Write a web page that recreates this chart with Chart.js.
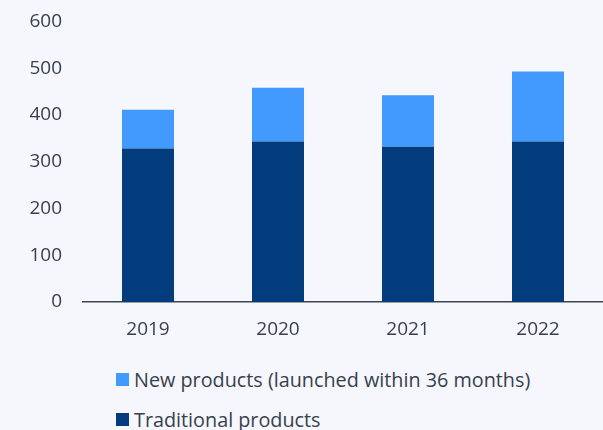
<!DOCTYPE html>
<html>
<head>
<meta charset="utf-8">
<script src="https://cdn.jsdelivr.net/npm/chart.js@4.4.1/dist/chart.umd.min.js"></script>
<style>
  html, body { margin: 0; padding: 0; background: #f5f7fc; }
  #wrap { position: relative; width: 603px; height: 430px; overflow: hidden; }
  #chart-box { position: absolute; left: 0; top: -11.5px; width: 603px; height: 361.5px; }
  #legend { position: absolute; left: 116px; top: 365px; margin: 0; padding: 0; list-style: none;
            font-family: "Open Sans", sans-serif; font-size: 19.8px; color: #37414c; }
  #legend li { display: flex; align-items: center; height: 28px; margin-bottom: 12px; white-space: nowrap; }
  #legend .swatch { display: inline-block; width: 13px; height: 13px; margin-right: 5px; }
</style>
</head>
<body>
<div id="wrap">
  <div id="chart-box"><canvas id="salesChart"></canvas></div>
  <ul id="legend"></ul>
</div>
<script>
// 年度別の売上構成（従来品 + 新製品）
const years = ['2019', '2020', '2021', '2022']
const traditionalProducts = [328, 343, 332, 343]
const newProducts = [83, 115, 110, 150]
const yTicks = [0, 100, 200, 300, 400, 500, 600]

const textColor = '#37414c'
const fontFamily = '"Open Sans", sans-serif'

const datasets = [
  {
    label: 'Traditional products',
    data: traditionalProducts,
    backgroundColor: '#023c7d',
    barPercentage: 0.8,
    categoryPercentage: 0.5
  },
  {
    label: 'New products (launched within 36 months)',
    data: newProducts,
    backgroundColor: '#4299fe',
    barPercentage: 0.8,
    categoryPercentage: 0.5
  }
]

const chart = new Chart(document.getElementById('salesChart'), {
  type: 'bar',
  data: { labels: years, datasets: datasets },
  options: {
    responsive: true,
    maintainAspectRatio: false,
    animation: false,
    layout: { padding: 0 },
    plugins: {
      legend: { display: false },
      tooltip: { enabled: false }
    },
    scales: {
      x: {
        stacked: true,
        grid: { display: false, drawTicks: false },
        border: { display: true, color: '#3d4752', width: 1.5 },
        ticks: {
          color: textColor,
          padding: 16,
          font: { family: fontFamily, size: 19 }
        },
        afterFit: function(scale) { scale.height = 48.5 }
      },
      y: {
        stacked: true,
        min: yTicks[0],
        max: yTicks[yTicks.length - 1],
        grid: { display: false, drawTicks: false },
        border: { display: false },
        afterBuildTicks: function(scale) {
          scale.ticks = yTicks.map(v => ({ value: v }))
        },
        ticks: {
          color: textColor,
          padding: 21,
          font: { family: fontFamily, size: 19 }
        },
        afterFit: function(scale) { scale.width = 83 }
      }
    }
  }
})

// 凡例（新製品を上に表示）
const legendEl = document.getElementById('legend')
datasets.slice().reverse().forEach(ds => {
  const li = document.createElement('li')
  const sw = document.createElement('span')
  sw.className = 'swatch'
  sw.style.background = ds.backgroundColor
  li.appendChild(sw)
  li.appendChild(document.createTextNode(ds.label))
  legendEl.appendChild(li)
})
</script>
</body>
</html>
